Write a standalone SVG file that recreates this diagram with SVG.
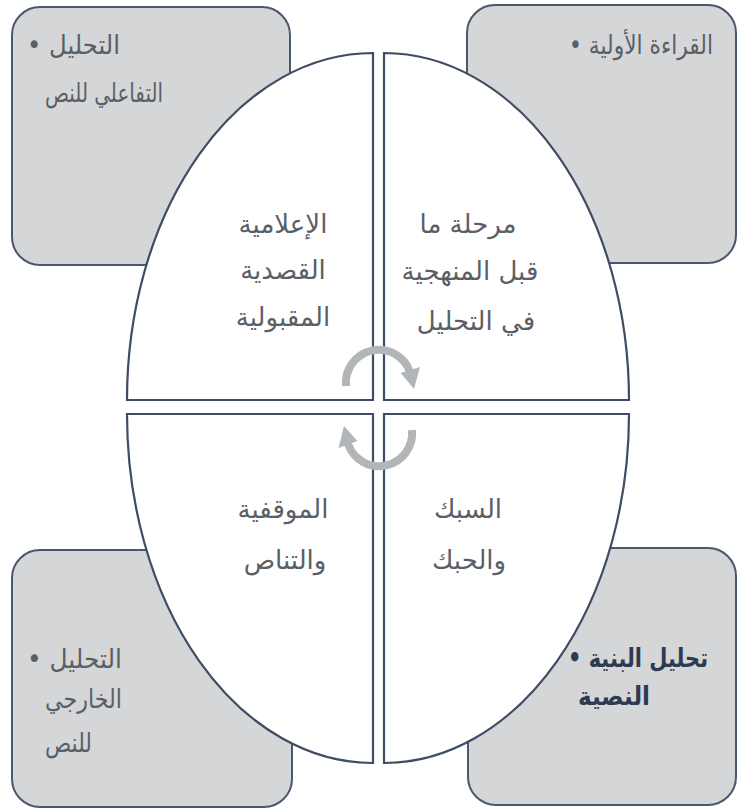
<svg xmlns="http://www.w3.org/2000/svg" width="738" height="810" viewBox="0 0 738 810">
<style>
.box{fill:#d4d6d8;stroke:#4a586e;stroke-width:2}
.quad{fill:#ffffff;stroke:#3e4c64;stroke-width:2.2}
.t{font-family:"DejaVu Sans",sans-serif;font-size:26px;fill:#5a5f67}
.c{font-family:"DejaVu Sans",sans-serif;font-size:26px;fill:#5a5f67;text-anchor:middle}
.b{font-family:"DejaVu Sans",sans-serif;font-size:26px;font-weight:bold;fill:#2e3a52}
.arc{fill:none;stroke:#b3b6b9;stroke-width:8}
.head{fill:#b3b6b9}
</style>
<g id="box-tl"><rect class="box" x="12" y="7" width="278" height="258" rx="28"/>
<text class="t" x="27" y="54" textLength="93" lengthAdjust="spacingAndGlyphs">• التحليل</text>
<text class="t" x="45" y="102" textLength="118" lengthAdjust="spacingAndGlyphs">التفاعلي للنص</text></g>
<g id="box-tr"><rect class="box" x="467" y="5" width="269" height="258" rx="28"/>
<text class="t" x="569" y="54" textLength="144" lengthAdjust="spacingAndGlyphs">• القراءة الأولية</text></g>
<g id="box-bl"><rect class="box" x="12" y="550" width="280" height="257" rx="28"/>
<text class="t" x="27" y="668" textLength="95" lengthAdjust="spacingAndGlyphs">• التحليل</text>
<text class="t" x="45" y="708" textLength="77" lengthAdjust="spacingAndGlyphs">الخارجي</text>
<text class="t" x="45" y="752" textLength="47" lengthAdjust="spacingAndGlyphs">للنص</text></g>
<g id="box-br"><rect class="box" x="468" y="548" width="268" height="257" rx="28"/>
<text class="b" x="568" y="667" textLength="140" lengthAdjust="spacingAndGlyphs">• تحليل البنية</text>
<text class="b" x="578" y="705" textLength="72" lengthAdjust="spacingAndGlyphs">النصية</text></g>
<g id="q-tl"><path class="quad" d="M373,400 L127,400 A246,347 0 0 1 373,53 Z"/>
<text class="c" x="283" y="233">الإعلامية</text>
<text class="c" x="283" y="279">القصدية</text>
<text class="c" x="283" y="326">المقبولية</text></g>
<g id="q-tr"><path class="quad" d="M384,400 L384,53 A245,347 0 0 1 629,400 Z"/>
<text class="c" x="468" y="233">مرحلة ما</text>
<text class="c" x="470" y="280">قبل المنهجية</text>
<text class="c" x="476" y="330">في التحليل</text></g>
<g id="q-br"><path class="quad" d="M384,414 L629,414 A245,349 0 0 1 384,763 Z"/>
<text class="c" x="468" y="518">السبك</text>
<text class="c" x="469" y="569">والحبك</text></g>
<g id="q-bl"><path class="quad" d="M373,414 L373,763 A246,349 0 0 1 127,414 Z"/>
<text class="c" x="283" y="518">الموقفية</text>
<text class="c" x="285" y="569">والتناص</text></g>
<g id="connectors">
<path class="arc" d="M346,386 A33,33 0 0 1 410,372"/>
<polygon class="head" points="400.6,373 420,367 414,389"/>
<path class="arc" d="M412,430 A33,33 0 0 1 348,444"/>
<polygon class="head" points="357.4,441 338.6,448 344,426"/>
</g>
</svg>
